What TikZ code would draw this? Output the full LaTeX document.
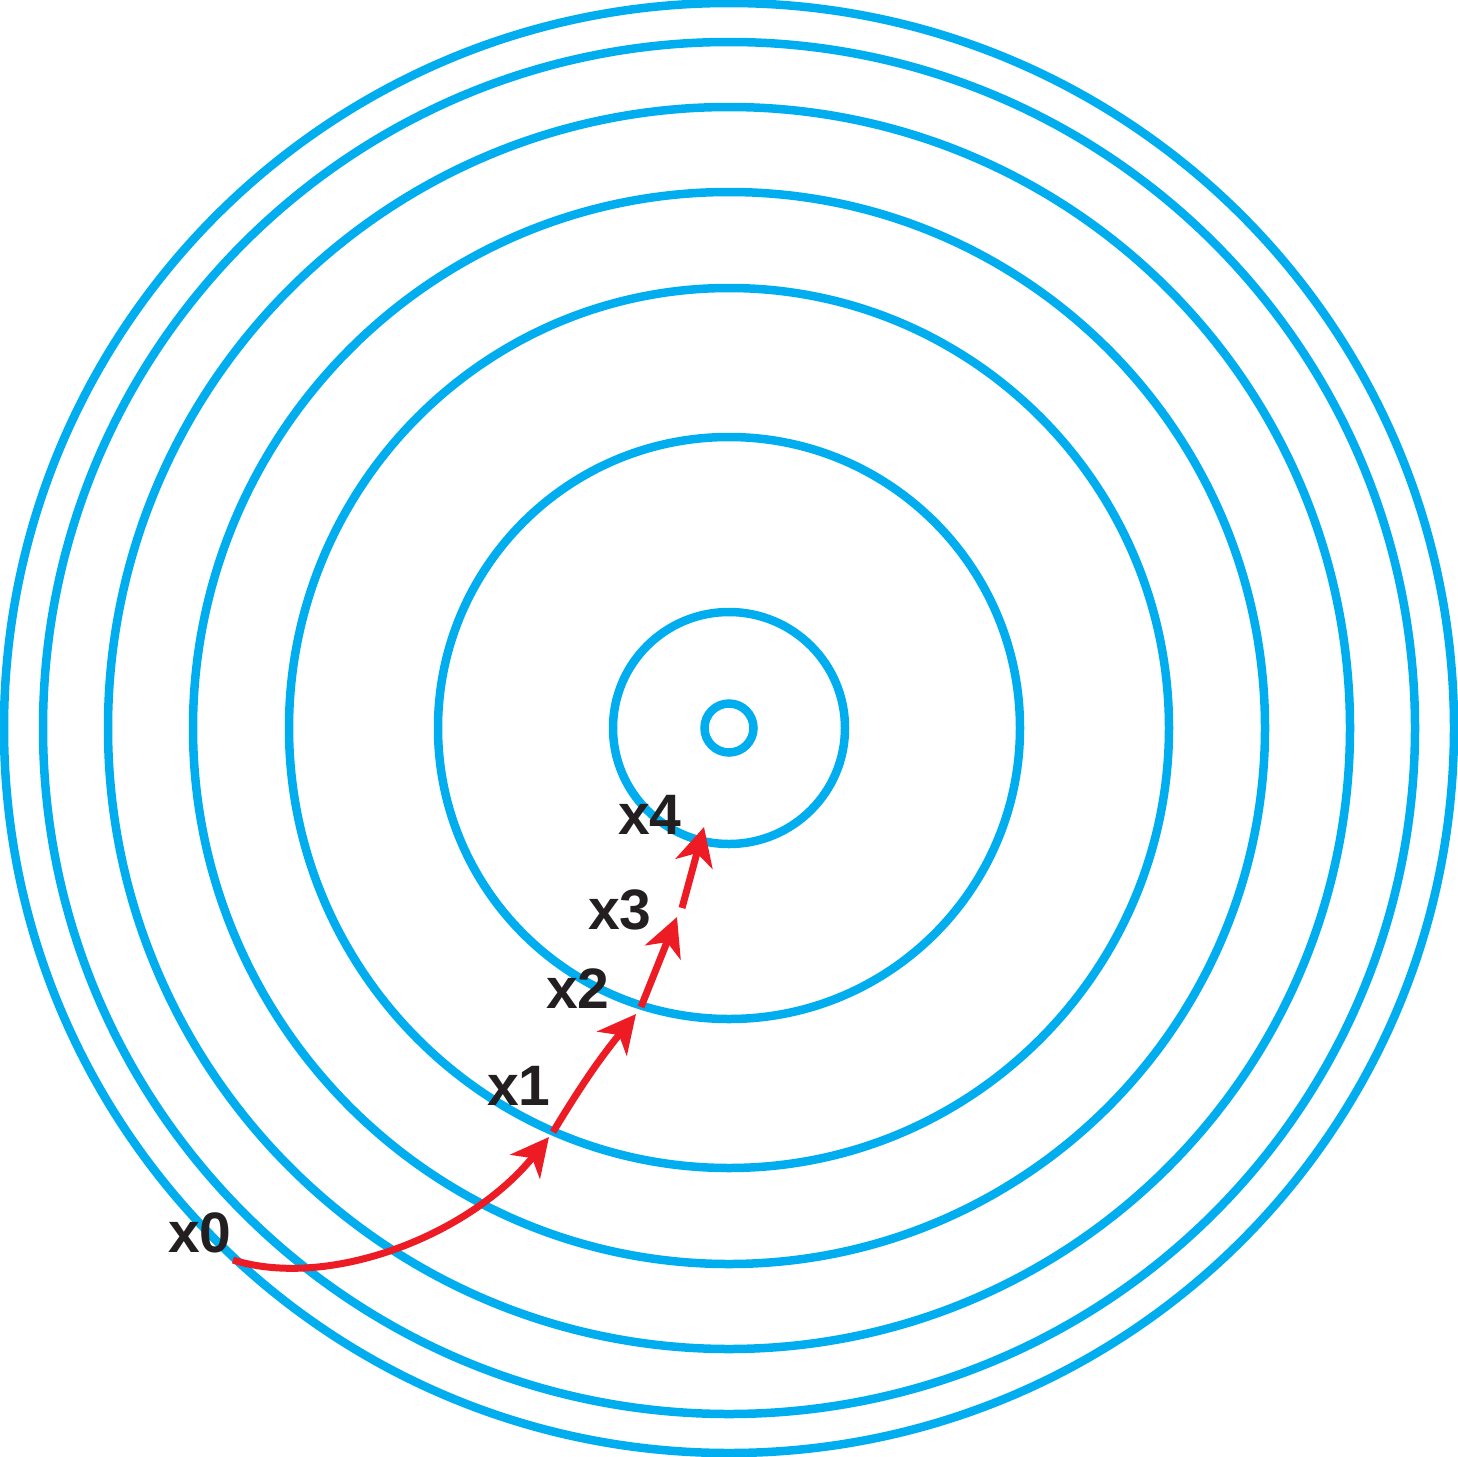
\documentclass[tikz,border=0pt]{standalone}
\usepackage{fontspec}
\setmainfont{Liberation Sans}
\usetikzlibrary{arrows.meta}
\definecolor{ring}{RGB}{0,174,239}
\definecolor{stepred}{RGB}{237,28,36}
\definecolor{labelgray}{RGB}{35,31,32}
\begin{document}
\begin{tikzpicture}[x=1pt,y=-1pt,
  contour/.style={draw=ring,line width=8.5pt},
  steparrow/.style={draw=stepred,line width=7pt,-{Stealth[length=38pt,width=38pt,inset=11pt]}},
  steplabel/.style={anchor=base west,inner sep=0pt,text=labelgray,font=\fontsize{57}{60}\selectfont\bfseries}]
\useasboundingbox (0,0) rectangle (1457,1457);
\coordinate (c) at (729,728);
\foreach \r in {725,686,621,536,440,291,116,24.5}
  \draw[contour] (c) circle[radius=\r];
\coordinate (p0) at (233,1260);
\coordinate (q1) at (549,1137);
\coordinate (p1) at (553,1132);
\coordinate (q2) at (636,1014);
\coordinate (p2) at (641,1007);
\coordinate (q3) at (677,917);
\coordinate (p3) at (682,908);
\coordinate (q4) at (704,827);
\draw[steparrow] (p0) .. controls (330,1290) and (470,1235) .. (q1);
\draw[steparrow] (p1) to[bend left=4] (q2);
\draw[steparrow] (p2) -- (q3);
\draw[steparrow] (p3) -- (q4);
\node[steplabel] (l0) at (168,1252) {x0};
\node[steplabel] (l1) at (487,1105) {x1};
\node[steplabel] (l2) at (546,1008) {x2};
\node[steplabel] (l3) at (588,929) {x3};
\node[steplabel] (l4) at (618,834) {x4};
\end{tikzpicture}
\end{document}
